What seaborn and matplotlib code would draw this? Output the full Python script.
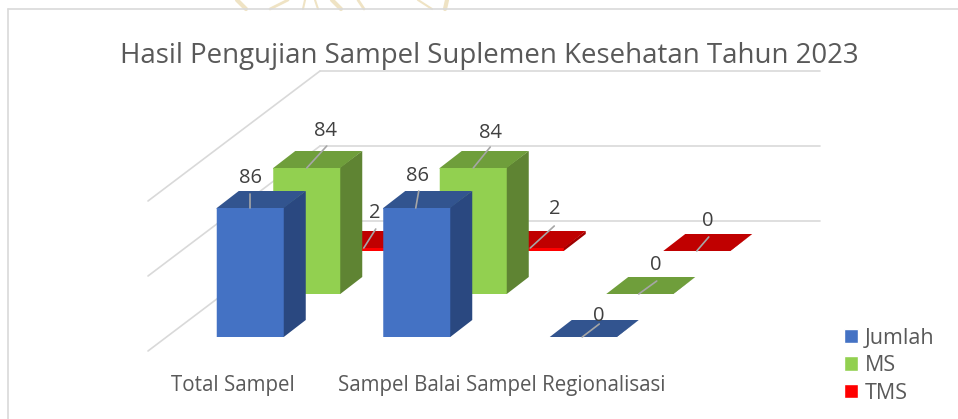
import matplotlib

matplotlib.use("Agg")
import matplotlib.pyplot as plt
import seaborn as sns
from matplotlib.lines import Line2D
from matplotlib.patches import Patch, Polygon
from matplotlib.transforms import ScaledTranslation

CATEGORIES = ["Total Sampel", "Sampel Balai", "Sampel Regionalisasi"]
JUMLAH = [86, 86, 0]
MS = [84, 84, 0]
TMS = [2, 2, 0]
WALL_TICKS = [0, 50, 100]

W, H = 958, 419
TEXT = "#595959"
LABEL = "#404040"
GRID = "#d9d9d9"
FONT = "Open Sans"

# front, top, side colours and the axes origin in picture pixels (left, baseline)
STYLE = {
    "Jumlah": ("#4472C4", "#32548F", "#2A4880", 167, 337),
    "MS": ("#92D050", "#6F9E3B", "#5F8433", 223.5, 294),
    "TMS": ("#FF0000", "#C00000", "#A00000", 280.5, 251),
}
# leader start dx, leader end dx, dy, label dx, dy, in pixels from the bar's front top centre
LEADERS = {
    "Jumlah": [(0, 0, 14, 0, 30), (-1, 2, 17, 1, 32), (-1, 16, 13, 16, 21)],
    "MS": [(0, 20, 22, 19, 37), (0, 17, 21, 17, 35), (-1, 17, 13, 16, 29)],
    "TMS": [(0, 12, 19, 11, 35), (0, 24, 22, 24, 39), (0, 12, 14, 11, 30)],
}
DEPTH_X, DEPTH_Y = 22, 17
STEP = 166.5
PX_PER_UNIT = 1.5

# faint strokes of the page watermark above the chart frame (x top, x bottom, width)
WATERMARK = [(237, 246, 3), (288, 270, 2), (305, 303, 1.5), (315, 318, 1.5), (332, 341, 3),
             (358, 364, 2), (418, 432, 1.5), (447, 445, 3)]

sns.set_theme(style="white")
plt.rcParams["font.family"] = [FONT, "DejaVu Sans"]


def px_axes(fig, left, base, width=3 * STEP, height=150):
    ax = fig.add_axes([left / W, 1 - base / H, width / W, height / H])
    ax.patch.set_visible(False)
    return ax


def draw_wall(fig):
    ax = px_axes(fig, 320, 221, width=500)
    ax.set_xlim(0, 500)
    ax.set_ylim(0, 100)
    for v in WALL_TICKS:
        ax.axhline(v, color=GRID, linewidth=1.2, clip_on=False)
        ax.plot([0, -172], [v, v - 130 / PX_PER_UNIT], color=GRID, linewidth=1.2, clip_on=False)
    ax.set_axis_off()


def draw_series(fig, name, values):
    front, top, side, left, base = STYLE[name]
    ax = px_axes(fig, left, base)
    sns.barplot(x=CATEGORIES, y=values, color=front, saturation=1, width=67 / STEP, linewidth=0, ax=ax)
    ax.set_xlim(-0.5, 2.5)
    ax.set_ylim(0, 100)
    dx = DEPTH_X / STEP
    dy = DEPTH_Y / PX_PER_UNIT

    for bar, value, lead in zip(ax.patches, values, LEADERS[name]):
        bar.set_snap(False)
        bar.set_zorder(2)
        x0, x1 = bar.get_x(), bar.get_x() + bar.get_width()
        # faces reach a pixel under the front so the series behind does not show through the seam
        under_x = x1 - 1 / STEP
        under_y = max(value - 1 / PX_PER_UNIT, 0)
        ax.add_patch(Polygon([(under_x, 0), (x1, 0), (x1 + dx, dy), (x1 + dx, value + dy), (under_x, value)],
                             facecolor=side, edgecolor="none", clip_on=False, zorder=1))
        ax.add_patch(Polygon([(x0, under_y), (x1, under_y), (x1, value), (x1 + dx, value + dy),
                              (x0 + dx, value + dy), (x0, value)],
                             facecolor=top, edgecolor="none", clip_on=False, zorder=1))
        cx = (x0 + x1) / 2
        ax.plot([cx + lead[0] / STEP, cx + lead[1] / STEP], [value, value + lead[2] / PX_PER_UNIT],
                color="#a6a6a6", linewidth=1.2, clip_on=False, zorder=5)
        ax.annotate(str(value), xy=(cx, value), xytext=(lead[3], lead[4]), textcoords="offset pixels",
                    ha="center", va="center", fontsize=14.5, color=LABEL, annotation_clip=False, zorder=6)
    sns.despine(ax=ax, left=True, bottom=True)
    ax.set_yticks([])
    ax.set_ylabel("")
    return ax


def main():
    fig = plt.figure(figsize=(W / 100, H / 100), dpi=100, facecolor="white")

    for x_top, x_bottom, lw in WATERMARK:
        fig.add_artist(Line2D([x_top / W, x_bottom / W], [1, 1 - 9 / H], color="#efe3c4", linewidth=lw))
    fig.add_artist(Line2D([7.5 / W, 7.5 / W], [0, 1 - 9 / H], color=GRID, linewidth=1.2))
    fig.add_artist(Line2D([7.5 / W, 1], [1 - 9 / H, 1 - 9 / H], color=GRID, linewidth=1.2))

    draw_wall(fig)
    draw_series(fig, "TMS", TMS).set_xticks([])
    draw_series(fig, "MS", MS).set_xticks([])
    ax = draw_series(fig, "Jumlah", JUMLAH)

    # only the front series carries the category axis
    ax.tick_params(axis="x", length=0, pad=27, labelsize=14.8, labelcolor=TEXT)
    shift = ScaledTranslation(-17 / 100, 0, fig.dpi_scale_trans)
    for label in ax.get_xticklabels():
        label.set_transform(label.get_transform() + shift)

    fig.text(489 / W, 1 - 56 / H, "Hasil Pengujian Sampel Suplemen Kesehatan Tahun 2023",
             ha="center", va="center", fontsize=19.9, color=TEXT)

    handles = [Patch(facecolor=STYLE[n][0], label=n) for n in STYLE]
    fig.legend(handles=handles, loc="lower left", bbox_to_anchor=(840 / W, 1 - 408 / H), frameon=False,
               fontsize=15.5, labelcolor=TEXT, handlelength=0.65, handleheight=0.65, handletextpad=0.3,
               labelspacing=0.3, borderpad=0.2, borderaxespad=0)

    fig.savefig("out.png", dpi=100)
    plt.close(fig)


if __name__ == "__main__":
    main()
